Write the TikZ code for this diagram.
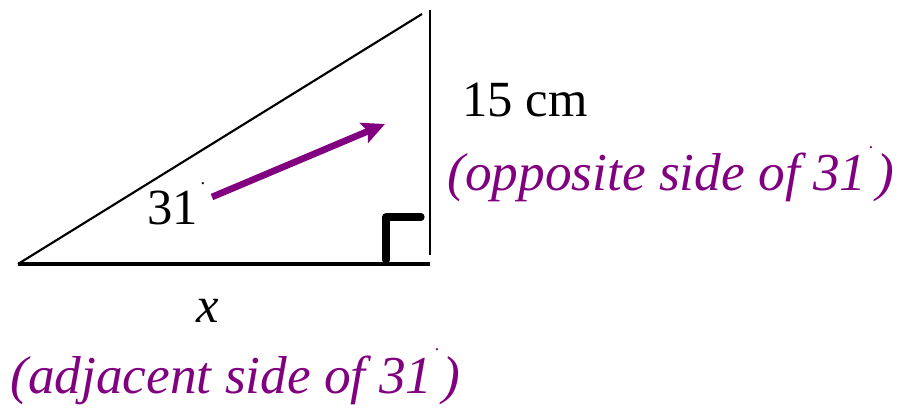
\documentclass[tikz,border=0pt]{standalone}
\usepackage{fontspec}
\setmainfont{Liberation Serif}
\usetikzlibrary{positioning,arrows.meta}

\definecolor{sidepurple}{RGB}{128,0,128}
\newcommand{\degdot}{\kern2pt\raisebox{0.8em}{\fontsize{14}{14}\selectfont.}\kern2pt}

\begin{document}
\begin{tikzpicture}[x=0.75pt, y=-0.75pt,
    every node/.style={font=\fontsize{38}{44}\selectfont, inner sep=0pt},
    sidelabel/.style={text=sidepurple, font=\fontsize{40}{46}\selectfont\itshape}]

    \useasboundingbox (0,0) rectangle (902,409);

    % Vertices
    \coordinate (A) at (18,264);
    \coordinate (B) at (430,264);
    \coordinate (C) at (430,10);
    \coordinate (H) at (422,14);

    % Sides
    \draw[line width=3.3pt] (A) -- (B);
    \draw[line width=1.8pt] (B) ++(0,-9) -- (C);
    \draw[line width=1.6pt] (A) -- (H);

    % Right angle mark
    \draw[line width=5.5pt, line cap=round, line join=round]
        (386,260) -- (386,217) -- (421,217);

    % Arrow across the triangle
    \coordinate (P) at (212,197);
    \coordinate (Q) at (385,124);
    \draw[-{Stealth[length=17pt, width=16pt, inset=3pt]}, line width=5pt, sidepurple]
        (P) -- (Q);

    % Labels
    \node[anchor=base west] (angle) at (147,225) {31\degdot};
    \node[anchor=base] (adj) at (208,322) {\textit{x}};
    \node[anchor=base west] (opp) at (462,117) {15 cm};
    \node[sidelabel, anchor=base west] (oppname) at (447,191)
        {(opposite side of 31\degdot)};
    \node[sidelabel, anchor=base west] (adjname) at (10,393)
        {(adjacent side of 31\degdot)};

\end{tikzpicture}
\end{document}
